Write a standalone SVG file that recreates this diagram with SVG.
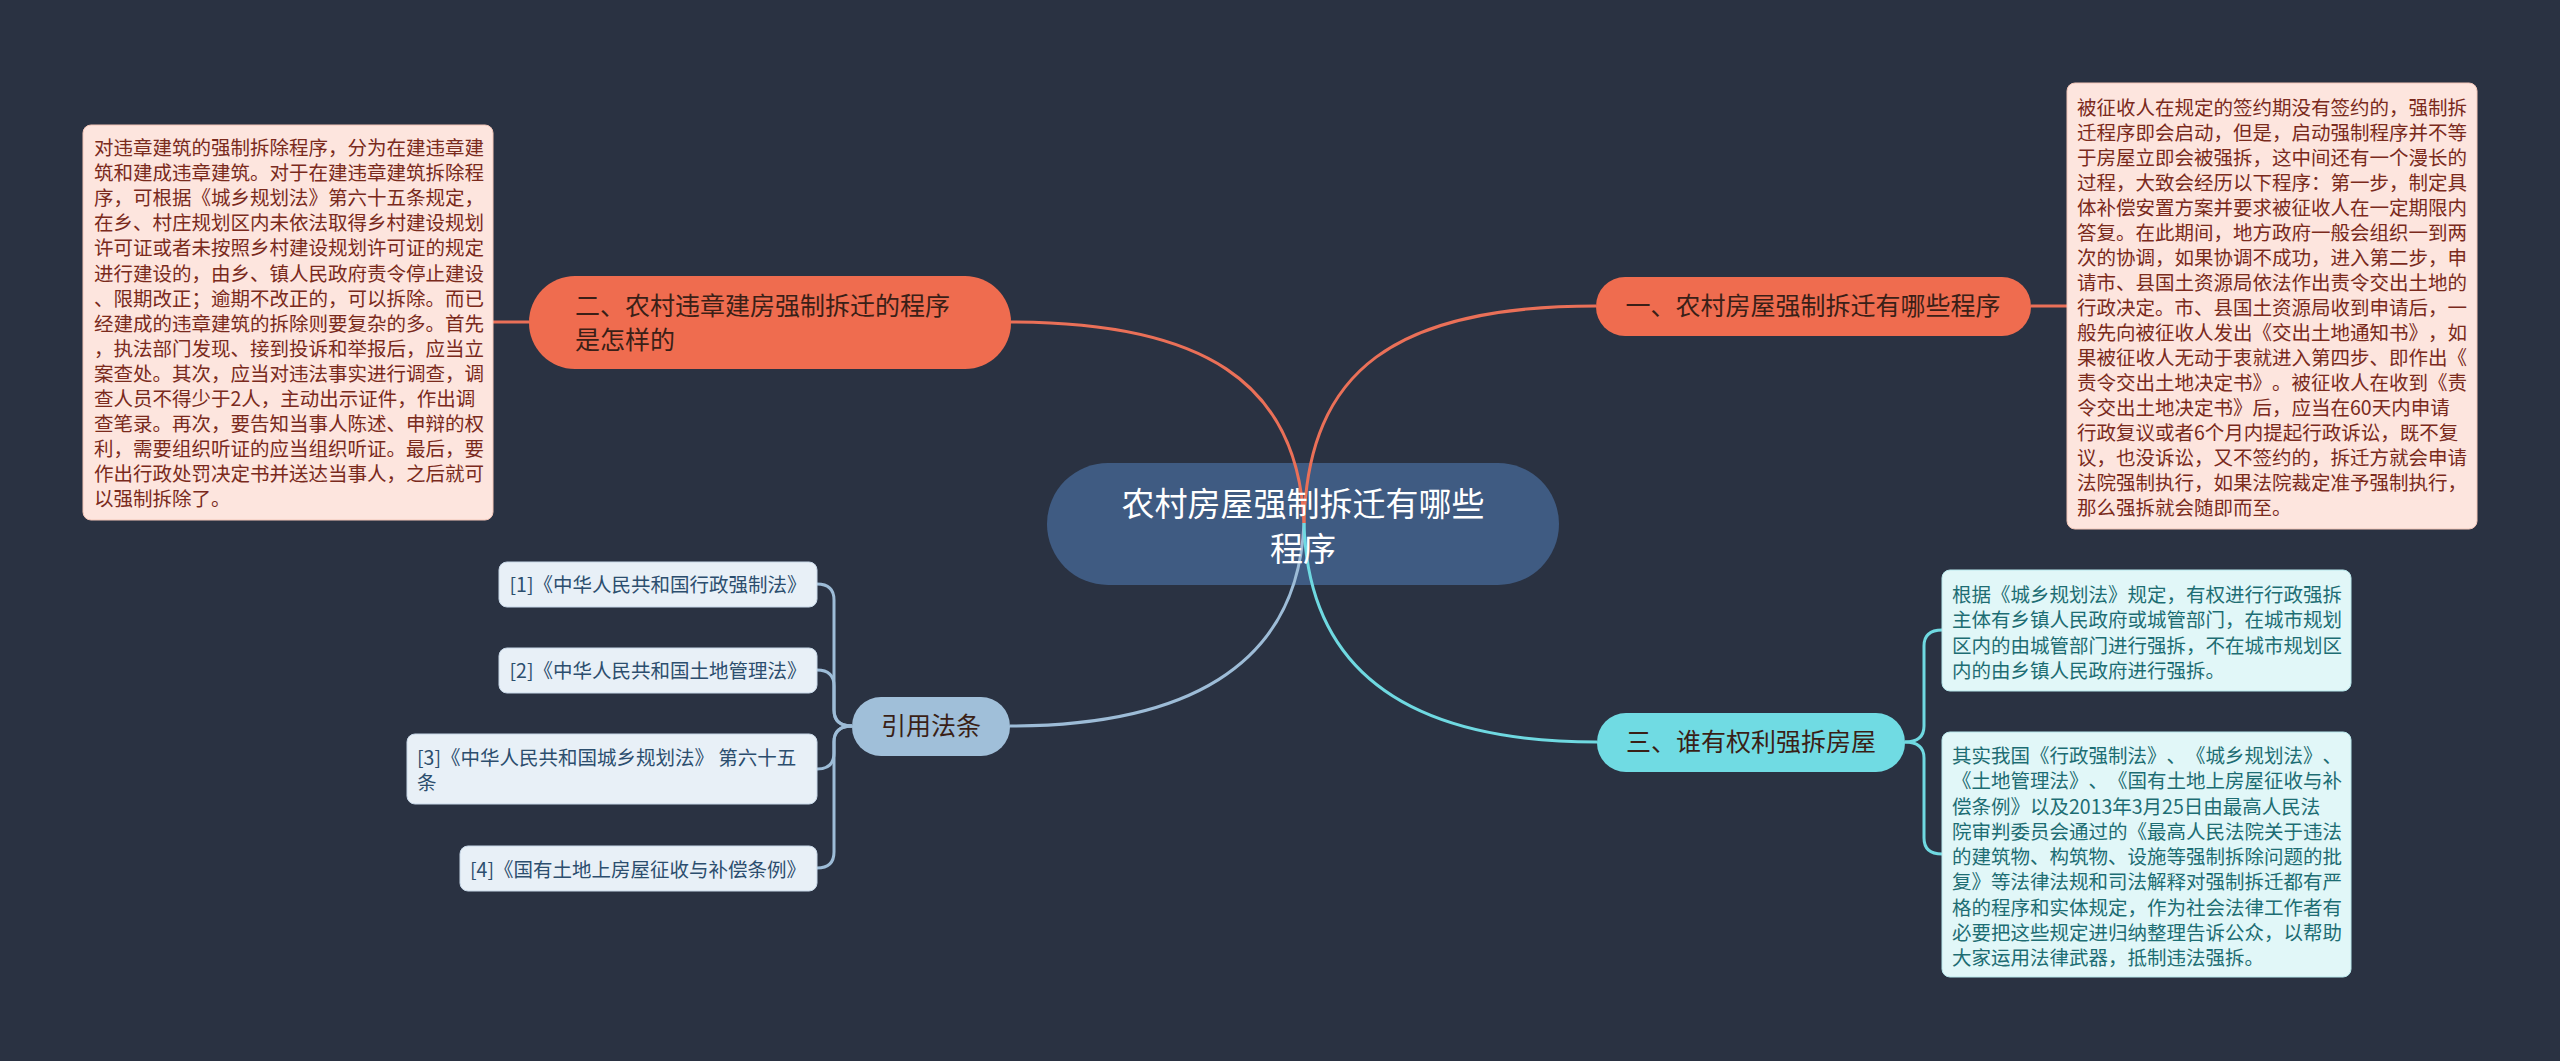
<svg xmlns="http://www.w3.org/2000/svg" width="2560" height="1061" viewBox="0 0 2560 1061">
<style>
text{text-spacing-trim:space-all;font-feature-settings:"palt" 0}
.cjk{font-family:"Noto Sans CJK SC","Noto Sans",sans-serif}
.detail{font-size:19.5px}
.red{fill:#fde5de;stroke:#f3c6b8;stroke-width:1}
.redt{fill:#7a2a1c}
.cyan{fill:#e1f7f8;stroke:#b8e8ec;stroke-width:1}
.cyant{fill:#1d6d73}
.cite{fill:#e8f0f7;stroke:#c8d8e8;stroke-width:1}
.citet{fill:#2c4e6e}
.orange{fill:#ef6c4f}
.dk{fill:#3a1f17}
.c-or{fill:none;stroke:#ea7058;stroke-width:3}
.c-cy{fill:none;stroke:#6fd9e1;stroke-width:3}
.c-bl{fill:none;stroke:#9dbcd7;stroke-width:3}
</style>
<rect x="0" y="0" width="2560" height="1061" fill="#2a3242"/>

<g id="center">
<rect x="1047" y="463" width="512" height="122" rx="61" fill="#3f5b82"/>
</g>

<g id="connectors">
<path class="c-or" d="M1304,523 C1308,370 1395,306 1596,306"/>
<path class="c-or" d="M1304,523 C1298,380 1200,322 1011,322"/>
<path class="c-bl" d="M1304,523 C1298,670 1180,726 1010,726"/>
<path class="c-cy" d="M1304,523 C1308,680 1420,742 1597,742"/>
<path class="c-or" d="M529,322 L493,322"/>
<path class="c-or" d="M2031,306 L2067,306"/>
<path class="c-bl" d="M852,726 Q834,726 834,710 L834,600 Q834,584 817,584"/>
<path class="c-bl" d="M852,726 Q834,726 834,710 L834,686 Q834,670 817,670"/>
<path class="c-bl" d="M852,726 Q834,726 834,742 L834,753 Q834,769 817,769"/>
<path class="c-bl" d="M852,726 Q834,726 834,742 L834,852 Q834,868 817,868"/>
<path class="c-cy" d="M1905,742 Q1924,742 1924,726 L1924,646 Q1924,630 1942,630"/>
<path class="c-cy" d="M1905,742 Q1924,742 1924,758 L1924,838 Q1924,854 1942,854"/>
</g>

<g id="center-text">
<text class="cjk" font-size="33" fill="#ffffff" text-anchor="middle"><tspan x="1303" y="516">农村房屋强制拆迁有哪些</tspan><tspan x="1303" y="561">程序</tspan></text>
</g>

<g id="node-2">
<rect class="orange" x="529" y="276" width="482" height="93" rx="46"/>
<text class="cjk dk" font-size="25"><tspan x="575" y="315">二、农村违章建房强制拆迁的程序</tspan><tspan x="575" y="349">是怎样的</tspan></text>
</g>

<g id="node-2-detail">
<rect class="red" x="83" y="125" width="410" height="395" rx="8"/>
<text class="cjk detail redt">
<tspan x="94" y="155">对违章建筑的强制拆除程序，分为在建违章建</tspan>
<tspan x="94" dy="25.1">筑和建成违章建筑。对于在建违章建筑拆除程</tspan>
<tspan x="94" dy="25.1">序，可根据《城乡规划法》第六十五条规定，</tspan>
<tspan x="94" dy="25.1">在乡、村庄规划区内未依法取得乡村建设规划</tspan>
<tspan x="94" dy="25.1">许可证或者未按照乡村建设规划许可证的规定</tspan>
<tspan x="94" dy="25.1">进行建设的，由乡、镇人民政府责令停止建设</tspan>
<tspan x="94" dy="25.1">、限期改正；逾期不改正的，可以拆除。而已</tspan>
<tspan x="94" dy="25.1">经建成的违章建筑的拆除则要复杂的多。首先</tspan>
<tspan x="94" dy="25.1">，执法部门发现、接到投诉和举报后，应当立</tspan>
<tspan x="94" dy="25.1">案查处。其次，应当对违法事实进行调查，调</tspan>
<tspan x="94" dy="25.1">查人员不得少于2人，主动出示证件，作出调</tspan>
<tspan x="94" dy="25.1">查笔录。再次，要告知当事人陈述、申辩的权</tspan>
<tspan x="94" dy="25.1">利，需要组织听证的应当组织听证。最后，要</tspan>
<tspan x="94" dy="25.1">作出行政处罚决定书并送达当事人，之后就可</tspan>
<tspan x="94" dy="25.1">以强制拆除了。</tspan>
</text>
</g>

<g id="node-1">
<rect class="orange" x="1596" y="277" width="435" height="59" rx="29"/>
<text class="cjk dk" font-size="25" text-anchor="middle" x="1813" y="315">一、农村房屋强制拆迁有哪些程序</text>
</g>

<g id="node-1-detail">
<rect class="red" x="2067" y="83" width="410" height="446" rx="8"/>
<text class="cjk detail redt">
<tspan x="2077" y="115">被征收人在规定的签约期没有签约的，强制拆</tspan>
<tspan x="2077" dy="25">迁程序即会启动，但是，启动强制程序并不等</tspan>
<tspan x="2077" dy="25">于房屋立即会被强拆，这中间还有一个漫长的</tspan>
<tspan x="2077" dy="25">过程，大致会经历以下程序：第一步，制定具</tspan>
<tspan x="2077" dy="25">体补偿安置方案并要求被征收人在一定期限内</tspan>
<tspan x="2077" dy="25">答复。在此期间，地方政府一般会组织一到两</tspan>
<tspan x="2077" dy="25">次的协调，如果协调不成功，进入第二步，申</tspan>
<tspan x="2077" dy="25">请市、县国土资源局依法作出责令交出土地的</tspan>
<tspan x="2077" dy="25">行政决定。市、县国土资源局收到申请后，一</tspan>
<tspan x="2077" dy="25">般先向被征收人发出《交出土地通知书》，如</tspan>
<tspan x="2077" dy="25">果被征收人无动于衷就进入第四步、即作出《</tspan>
<tspan x="2077" dy="25">责令交出土地决定书》。被征收人在收到《责</tspan>
<tspan x="2077" dy="25">令交出土地决定书》后，应当在60天内申请</tspan>
<tspan x="2077" dy="25">行政复议或者6个月内提起行政诉讼，既不复</tspan>
<tspan x="2077" dy="25">议，也没诉讼，又不签约的，拆迁方就会申请</tspan>
<tspan x="2077" dy="25">法院强制执行，如果法院裁定准予强制执行，</tspan>
<tspan x="2077" dy="25">那么强拆就会随即而至。</tspan>
</text>
</g>

<g id="node-3">
<rect x="1597" y="713" width="308" height="59" rx="29" fill="#70dbe3"/>
<text class="cjk dk" font-size="25" text-anchor="middle" x="1751" y="751">三、谁有权利强拆房屋</text>
</g>

<g id="node-3-detail-a">
<rect class="cyan" x="1942" y="570" width="409" height="121" rx="8"/>
<text class="cjk detail cyant">
<tspan x="1952" y="602">根据《城乡规划法》规定，有权进行行政强拆</tspan>
<tspan x="1952" dy="25.3">主体有乡镇人民政府或城管部门，在城市规划</tspan>
<tspan x="1952" dy="25.3">区内的由城管部门进行强拆，不在城市规划区</tspan>
<tspan x="1952" dy="25.3">内的由乡镇人民政府进行强拆。</tspan>
</text>
</g>

<g id="node-3-detail-b">
<rect class="cyan" x="1942" y="732" width="409" height="245" rx="8"/>
<text class="cjk detail cyant">
<tspan x="1952" y="763">其实我国《行政强制法》、《城乡规划法》、</tspan>
<tspan x="1952" dy="25.25">《土地管理法》、《国有土地上房屋征收与补</tspan>
<tspan x="1952" dy="25.25">偿条例》以及2013年3月25日由最高人民法</tspan>
<tspan x="1952" dy="25.25">院审判委员会通过的《最高人民法院关于违法</tspan>
<tspan x="1952" dy="25.25">的建筑物、构筑物、设施等强制拆除问题的批</tspan>
<tspan x="1952" dy="25.25">复》等法律法规和司法解释对强制拆迁都有严</tspan>
<tspan x="1952" dy="25.25">格的程序和实体规定，作为社会法律工作者有</tspan>
<tspan x="1952" dy="25.25">必要把这些规定进归纳整理告诉公众，以帮助</tspan>
<tspan x="1952" dy="25.25">大家运用法律武器，抵制违法强拆。</tspan>
</text>
</g>

<g id="node-cite">
<rect x="852" y="697" width="158" height="59" rx="29" fill="#a0bfd9"/>
<text class="cjk dk" font-size="25" text-anchor="middle" x="931" y="735">引用法条</text>
</g>

<g id="cite-1">
<rect class="cite" x="499" y="562" width="318" height="45" rx="8"/>
<text class="cjk detail citet" text-anchor="middle" x="658" y="592">[1]《中华人民共和国行政强制法》</text>
</g>
<g id="cite-2">
<rect class="cite" x="499" y="648" width="318" height="45" rx="8"/>
<text class="cjk detail citet" text-anchor="middle" x="658" y="678">[2]《中华人民共和国土地管理法》</text>
</g>
<g id="cite-3">
<rect class="cite" x="407" y="734" width="410" height="70" rx="8"/>
<text class="cjk detail citet"><tspan x="417" y="765">[3]《中华人民共和国城乡规划法》 第六十五</tspan><tspan x="417" y="790">条</tspan></text>
</g>
<g id="cite-4">
<rect class="cite" x="460" y="846" width="357" height="45" rx="8"/>
<text class="cjk detail citet" text-anchor="middle" x="638" y="877">[4]《国有土地上房屋征收与补偿条例》</text>
</g>
</svg>
